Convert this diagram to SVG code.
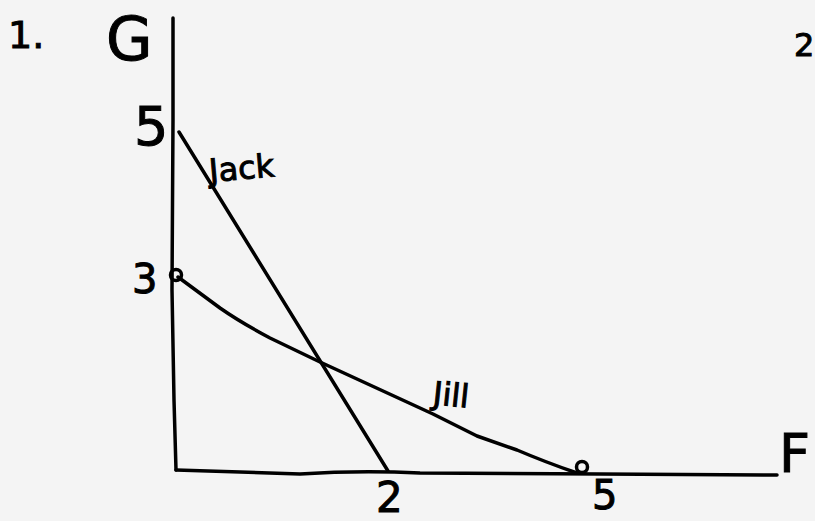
<svg xmlns="http://www.w3.org/2000/svg" width="815" height="521" viewBox="0 0 815 521">
<style>
.ln{fill:none;stroke:#000;stroke-width:3.5;stroke-linecap:round;stroke-linejoin:round}
.pt{fill:none;stroke:#000;stroke-width:3.5}
.t{font-family:"DejaVu Sans","Liberation Sans",sans-serif;fill:#000;stroke:#000;stroke-width:1}
</style>
<rect width="815" height="521" fill="#f4f4f4"/>
<g id="axes" class="connectors">
<path class="ln" d="M173,18 L173,120 L172,290 L174,400 L176,470"/>
<path class="ln" d="M176,470 L300,474 Q360,470 420,473 L600,474 L777,475"/>
</g>
<g id="jack">
<path class="ln" d="M179,132 L388,471"/>
<text class="t" x="210" y="182" font-size="32" transform="rotate(-5 210 182)">Jack</text>
</g>
<g id="jill">
<path class="ln" d="M178,277 L220,308 Q240,322 270,338 L320,362 L433,414 L477,436 Q500,444 517,450 Q545,462 577,473"/>
<text class="t" x="432" y="404" font-size="32" transform="rotate(6 432 404)">Jill</text>
</g>
<g id="point3">
<circle class="pt" cx="176" cy="275" r="5.5"/>
<text class="t" x="132" y="293" font-size="40">3</text>
</g>
<g id="point5">
<circle class="pt" cx="582" cy="467" r="5.5"/>
<text class="t" x="592" y="509" font-size="40">5</text>
</g>
<g id="labels">
<text class="t" x="8" y="48" font-size="38">1.</text>
<text class="t" x="106" y="60" font-size="60">G</text>
<text class="t" x="134" y="145" font-size="54">5</text>
<text class="t" x="376" y="512" font-size="42">2</text>
<text class="t" x="779" y="472" font-size="54">F</text>
<text class="t" x="794" y="56" font-size="32">2</text>
</g>
</svg>
